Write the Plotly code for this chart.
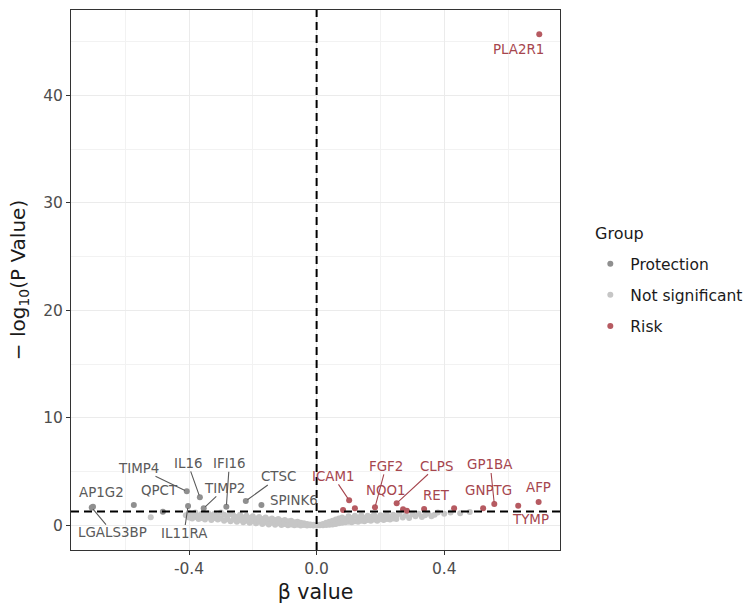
import math
import plotly.graph_objects as go

# ---------------- data ----------------
ns_beta = [
    -0.52,
    -0.41, -0.40, -0.40, -0.39, -0.39, -0.38, -0.38, -0.37, -0.37, -0.36, -0.36,
    -0.35, -0.35, -0.34, -0.34, -0.33, -0.33, -0.32, -0.32, -0.31, -0.31,
    -0.30, -0.30, -0.29, -0.29, -0.28, -0.28, -0.27, -0.27, -0.26, -0.26,
    -0.25, -0.25, -0.24, -0.24, -0.23, -0.23, -0.22, -0.22, -0.21, -0.21,
    -0.20, -0.20, -0.19, -0.19, -0.18, -0.18, -0.17, -0.17, -0.16, -0.16,
    -0.15, -0.15, -0.14, -0.14, -0.13, -0.13, -0.12, -0.12, -0.11, -0.11,
    -0.10, -0.10, -0.09, -0.09, -0.08, -0.08, -0.07, -0.07, -0.06, -0.06,
    -0.05, -0.05, -0.04, -0.04, -0.03, -0.03, -0.02, -0.02, -0.01, -0.01,
    0.00, 0.00,
    0.01, 0.01, 0.02, 0.02, 0.03, 0.03, 0.04, 0.04, 0.05, 0.05, 0.06, 0.06,
    0.07, 0.07, 0.08, 0.08, 0.09, 0.09, 0.10, 0.10, 0.11, 0.11, 0.12, 0.12,
    0.13, 0.13, 0.14, 0.14, 0.15, 0.15, 0.16, 0.16, 0.17, 0.17, 0.18, 0.18,
    0.19, 0.19, 0.20, 0.20, 0.21, 0.21, 0.22, 0.22, 0.23, 0.23, 0.24, 0.24,
    0.25, 0.25, 0.26, 0.27, 0.28, 0.29, 0.30, 0.31, 0.32, 0.33, 0.34, 0.35,
    0.36, 0.37, 0.38, 0.40, 0.42, 0.45, 0.48,
]
ns_logp = [
    0.77,
    0.95, 1.15, 0.75, 1.00, 0.65, 1.20, 0.80, 0.90, 0.60, 1.10, 0.70,
    1.00, 0.55, 1.15, 0.75, 0.95, 0.50, 1.10, 0.70, 0.90, 0.55,
    1.20, 0.65, 1.00, 0.45, 0.85, 0.60, 1.05, 0.40, 0.90, 0.55,
    0.80, 0.35, 1.00, 0.50, 0.75, 0.30, 0.90, 0.45, 0.70, 0.25,
    0.85, 0.40, 0.65, 0.20, 0.80, 0.35, 0.60, 0.15, 0.75, 0.30,
    0.55, 0.10, 0.65, 0.25, 0.50, 0.08, 0.60, 0.20, 0.45, 0.05,
    0.50, 0.15, 0.40, 0.03, 0.45, 0.10, 0.30, 0.02, 0.35, 0.08,
    0.25, 0.01, 0.20, 0.05, 0.15, 0.01, 0.10, 0.02, 0.06, 0.01,
    0.03, 0.01,
    0.08, 0.02, 0.15, 0.03, 0.25, 0.05, 0.35, 0.08, 0.45, 0.10, 0.55, 0.15,
    0.65, 0.20, 0.75, 0.25, 0.60, 0.30, 0.85, 0.35, 0.70, 0.30, 0.90, 0.40,
    0.75, 0.35, 0.95, 0.45, 0.70, 0.40, 0.90, 0.50, 0.80, 0.45, 1.00, 0.55,
    0.75, 0.45, 0.95, 0.60, 0.85, 0.50, 1.05, 0.60, 0.80, 0.55, 1.00, 0.65,
    0.85, 0.60, 1.10, 0.75, 0.95, 0.70, 1.05, 0.85, 1.10, 0.80, 0.95, 1.15,
    0.85, 1.00, 1.20, 1.10, 1.20, 1.15, 1.25,
]

prot_beta = [-0.701, -0.705, -0.573, -0.482, -0.407, -0.403, -0.366, -0.354, -0.283, -0.222, -0.173]
prot_logp = [1.75, 1.67, 1.91, 1.28, 3.18, 1.81, 2.62, 1.60, 1.75, 2.28, 1.91]
prot_gene = ["AP1G2", "LGALS3BP", "", "QPCT", "TIMP4", "IL11RA", "IL16", "TIMP2", "IFI16", "CTSC", "SPINK6"]

risk_beta = [0.083, 0.102, 0.120, 0.183, 0.251, 0.271, 0.283, 0.337, 0.431, 0.522, 0.557, 0.632, 0.696, 0.698]
risk_logp = [1.44, 2.34, 1.60, 1.69, 2.07, 1.51, 1.38, 1.53, 1.60, 1.60, 2.00, 1.84, 2.19, 45.69]
risk_gene = ["", "ICAM1", "", "FGF2", "CLPS", "NQO1", "", "RET", "", "GNPTG", "GP1BA", "TYMP", "AFP", "PLA2R1"]

x_tickvals = [-0.4, 0.0, 0.4]
x_ticktext = ["-0.4", "0.0", "0.4"]
y_tickvals = [0, 10, 20, 30, 40]
p_threshold = 0.05

# ---------------- label placement (pixel offsets, segment or not) ----------------
label_pos = {
    "AP1G2": (8, -14, False), "LGALS3BP": (21, 25, True), "QPCT": (-3, -21, False),
    "TIMP4": (-48, -23, True), "IL11RA": (-4, 27, True), "IL16": (-12, -34, True),
    "TIMP2": (21, -20, True), "IFI16": (3, -43, True), "CTSC": (33, -24, True),
    "SPINK6": (33, -4, False),
    "ICAM1": (-16, -24, True), "FGF2": (11, -41, True), "CLPS": (40, -37, True),
    "NQO1": (-17, -19, False), "RET": (12, -14, False), "GNPTG": (5, -18, False),
    "GP1BA": (-4, -39, True), "TYMP": (12, 14, False), "AFP": (0, -14, False),
    "PLA2R1": (-21, 15, False),
}

FONT = "DejaVu Sans"
COL_PROT = "#8f8f8f"
COL_NS = "#c6c6c6"
COL_RISK = "#b65a61"
TXT_PROT = "#5a5a5a"
TXT_RISK = "#a6464e"

fig = go.Figure()
fig.add_trace(go.Scatter(x=ns_beta, y=ns_logp, mode="markers", name="Not significant",
                         marker=dict(color=COL_NS, size=6), legendgroup="b", legendrank=2))
fig.add_trace(go.Scatter(x=prot_beta, y=prot_logp, mode="markers", name="Protection",
                         marker=dict(color=COL_PROT, size=6), legendgroup="a", legendrank=1))
fig.add_trace(go.Scatter(x=risk_beta, y=risk_logp, mode="markers", name="Risk",
                         marker=dict(color=COL_RISK, size=6), legendgroup="c", legendrank=3))

annotations = []
for betas, logps, genes, tcol in ((prot_beta, prot_logp, prot_gene, TXT_PROT),
                                  (risk_beta, risk_logp, risk_gene, TXT_RISK)):
    for b, lp, g in zip(betas, logps, genes):
        if not g:
            continue
        dx, dy, seg = label_pos[g]
        common = dict(x=b, y=lp, xref="x", yref="y", text=g,
                      font=dict(family=FONT, size=13.4, color=tcol))
        if seg:
            annotations.append(dict(**common, showarrow=True, ax=dx, ay=dy,
                                    arrowhead=0, arrowwidth=1.1, arrowcolor=tcol,
                                    standoff=2, borderpad=0))
        else:
            annotations.append(dict(**common, showarrow=False, xshift=dx, yshift=-dy))

# legend title
annotations.append(dict(text="Group", xref="paper", yref="paper", x=1.0675, y=0.587,
                        xanchor="left", yanchor="middle", showarrow=False,
                        font=dict(family=FONT, size=16, color="#1a1a1a")))

thr = -math.log10(p_threshold)
shapes = [
    dict(type="line", xref="x", yref="paper", x0=0, x1=0, y0=0, y1=1,
         line=dict(color="black", width=2, dash="8px,5px"), layer="above"),
    dict(type="line", xref="paper", yref="y", x0=0, x1=1, y0=thr, y1=thr,
         line=dict(color="black", width=2, dash="8px,5px"), layer="above"),
]

fig.update_layout(
    template="none",
    width=750, height=614,
    margin=dict(l=71, r=190, t=10, b=64, autoexpand=False),
    paper_bgcolor="white", plot_bgcolor="white",
    font=dict(family=FONT, color="#1a1a1a"),
    showlegend=True,
    legend=dict(font=dict(family=FONT, size=15.5, color="#1a1a1a"),
                x=1.062, xanchor="left", y=0.561, yanchor="top",
                tracegroupgap=8, bgcolor="rgba(0,0,0,0)"),
    annotations=annotations,
    shapes=shapes,
)

fig.update_xaxes(
    range=[-0.770, 0.763], tickvals=x_tickvals, ticktext=x_ticktext,
    showgrid=True, gridcolor="#ebebeb", gridwidth=1,
    minor=dict(dtick=0.2, tick0=0, showgrid=True, gridcolor="#f2f2f2", gridwidth=0.7),
    zeroline=False, showline=True, linecolor="#333333", linewidth=1, mirror=True,
    ticks="outside", ticklen=4, tickcolor="#333333", tickwidth=1,
    tickfont=dict(family=FONT, size=15.5, color="#4d4d4d"),
    title=dict(text="β value", font=dict(family=FONT, size=20.5, color="#1a1a1a"), standoff=8),
    automargin=False,
)
fig.update_yaxes(
    range=[-2.28, 47.95], tickvals=y_tickvals,
    showgrid=True, gridcolor="#ebebeb", gridwidth=1,
    minor=dict(dtick=5, tick0=0, showgrid=True, gridcolor="#f2f2f2", gridwidth=0.7),
    zeroline=False, showline=True, linecolor="#333333", linewidth=1, mirror=True,
    ticks="outside", ticklen=4, tickcolor="#333333", tickwidth=1,
    tickfont=dict(family=FONT, size=15.5, color="#4d4d4d"),
    title=dict(text="− log<sub>10</sub>(P Value)", font=dict(family=FONT, size=20, color="#1a1a1a"), standoff=12),
    automargin=False,
)

fig.write_html("out.html")
